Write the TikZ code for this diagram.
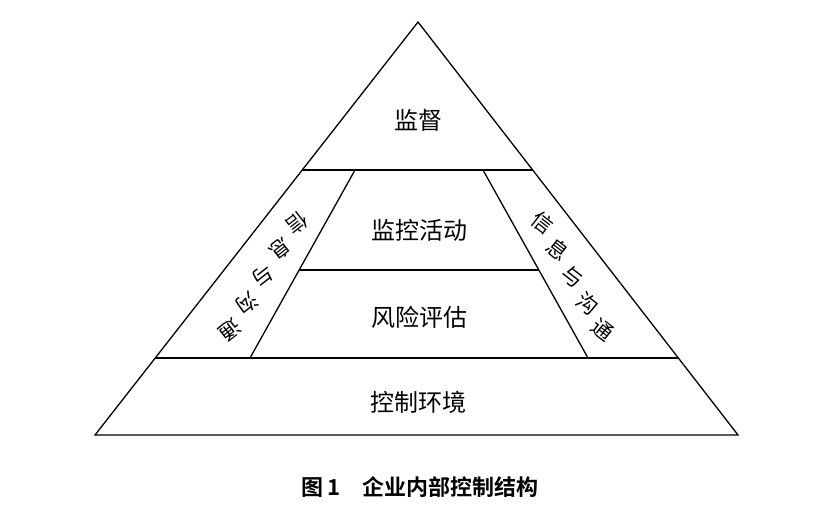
\documentclass[tikz,border=0pt]{standalone}
\usepackage{fontspec}
\newfontfamily\cjk{Noto Sans CJK SC}
\newfontfamily\cjkb{Noto Sans CJK SC Bold}
\begin{document}
\begin{tikzpicture}[x=1pt,y=-1pt,line width=1.3pt,
  lab/.style={font=\cjk\fontsize{24}{24}\selectfont,inner sep=0pt},
  sch/.style={font=\cjk\fontsize{21}{21}\selectfont,inner sep=0pt}]
\useasboundingbox (0,0) rectangle (821,523);
\coordinate (A) at (418,22);
\coordinate (L) at (95,435);
\coordinate (R) at (738,435);
\coordinate (L1) at (302,170); \coordinate (R1) at (533,170);
\coordinate (L2) at (155,358); \coordinate (R2) at (679,358);
\coordinate (I1) at (355,170); \coordinate (J1) at (483,170);
\coordinate (I2) at (250,358); \coordinate (J2) at (588,358);
\coordinate (M1) at (299,270); \coordinate (M2) at (539,270);
\draw (A) -- (L) -- (R) -- cycle;
\draw (L1) -- (R1);
\draw (L2) -- (R2);
\draw (I1) -- (I2);
\draw (J1) -- (J2);
\draw (M1) -- (M2);
\node[lab] (n1) at (418,120) {监督};
\node[lab] (n2) at (419,230) {监控活动};
\node[lab] (n3) at (419,317) {风险评估};
\node[lab] (n4) at (418,402) {控制环境};
\foreach \c [count=\i from 0] in {信,息,与,沟,通}{
  \node[sch,rotate=-142] (l\i) at ({297-16.75*\i},{223+26.75*\i}) {\c};
  \node[sch,rotate=-38] (r\i) at ({543+15*\i},{223+26.75*\i}) {\c};
}
\node[font=\cjkb\fontsize{22}{22}\selectfont,inner sep=0pt] (cap) at (420,487) {图\,1\quad 企业内部控制结构};
\end{tikzpicture}
\end{document}
